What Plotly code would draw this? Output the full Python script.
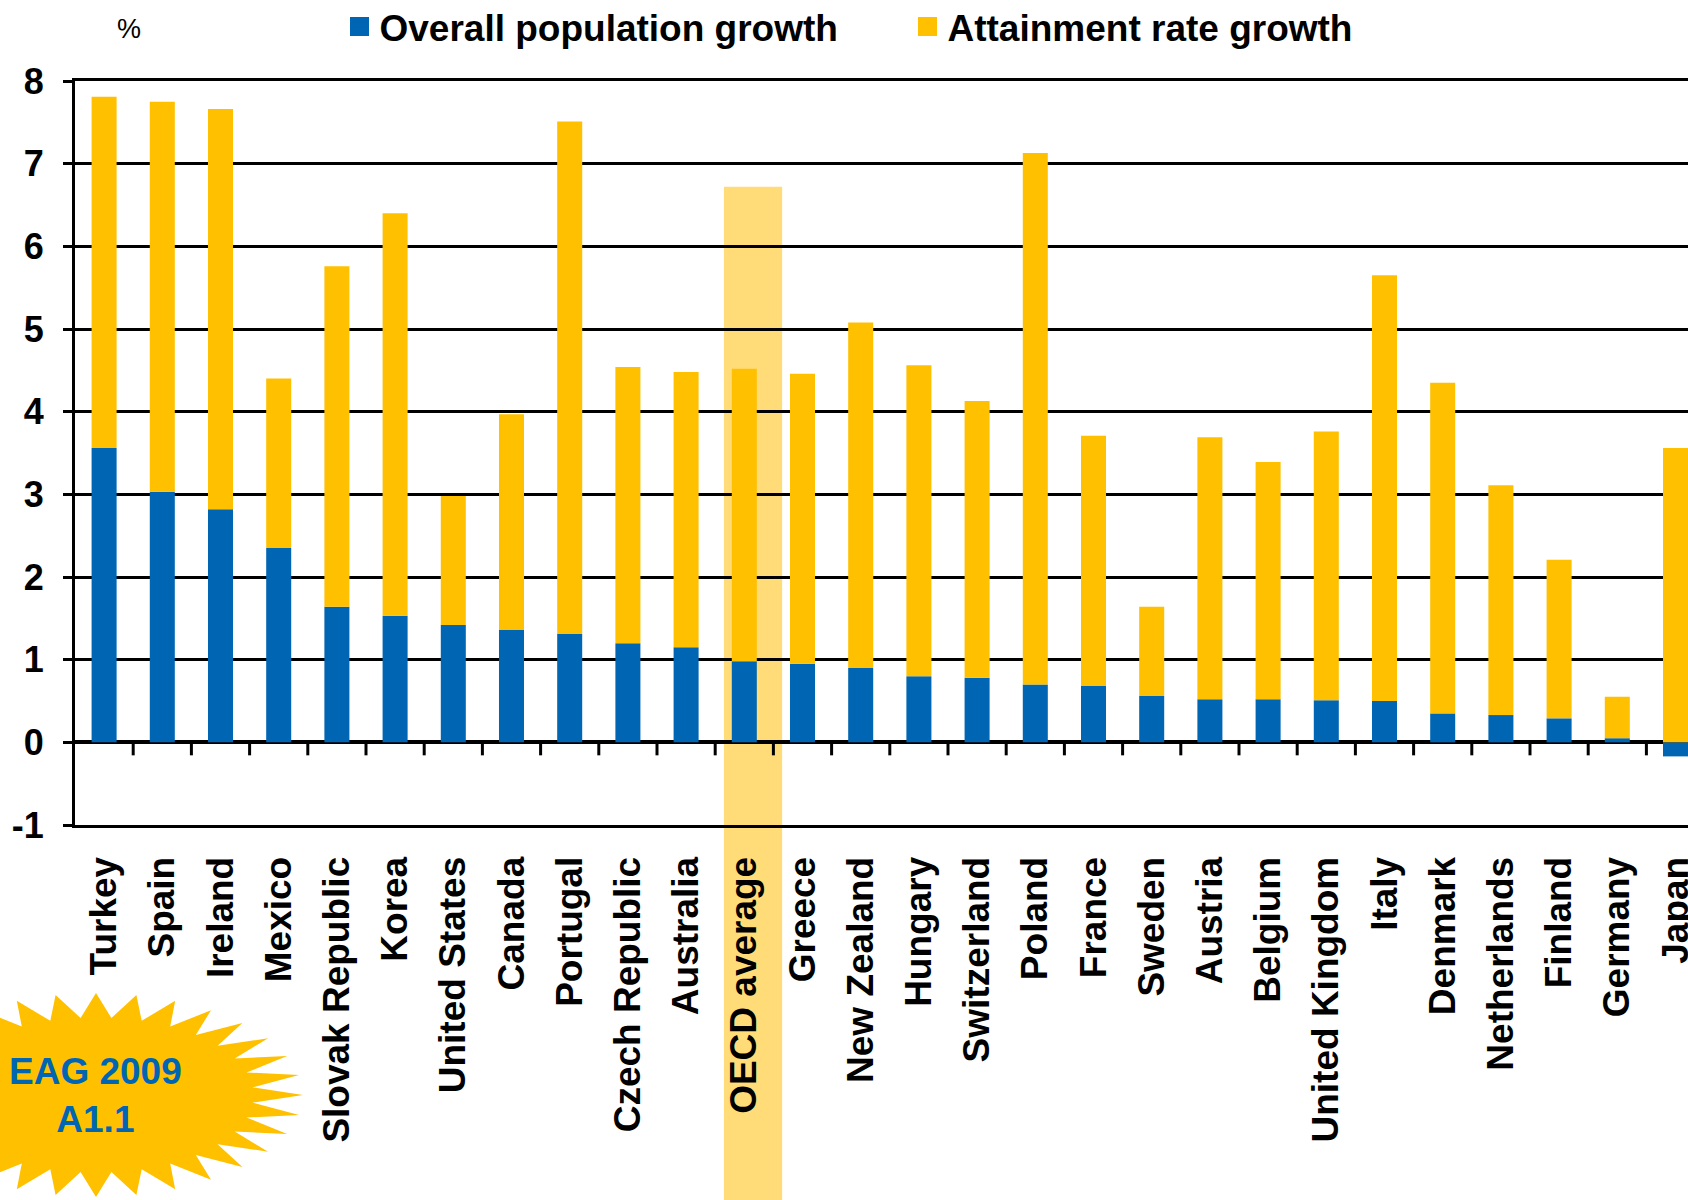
import math
import plotly.graph_objects as go

# ---------------- data ----------------
countries = [
    "Turkey", "Spain", "Ireland", "Mexico", "Slovak Republic", "Korea",
    "United States", "Canada", "Portugal", "Czech Republic", "Australia",
    "OECD average", "Greece", "New Zealand", "Hungary", "Switzerland",
    "Poland", "France", "Sweden", "Austria", "Belgium", "United Kingdom",
    "Italy", "Denmark", "Netherlands", "Finland", "Germany", "Japan",
]
population_growth = [
    3.56, 3.03, 2.82, 2.35, 1.64, 1.53, 1.42, 1.36, 1.31, 1.20, 1.15,
    0.98, 0.95, 0.90, 0.80, 0.78, 0.70, 0.68, 0.56, 0.52, 0.52, 0.51,
    0.50, 0.35, 0.33, 0.29, 0.05, -0.17,
]
attainment_growth = [
    4.25, 4.72, 4.84, 2.05, 4.12, 4.87, 1.56, 2.61, 6.20, 3.34, 3.33,
    3.54, 3.51, 4.18, 3.76, 3.35, 6.43, 3.03, 1.08, 3.17, 2.87, 3.25,
    5.15, 4.00, 2.78, 1.92, 0.50, 3.56,
]
series_names = ["Overall population growth", "Attainment rate growth"]
y_ticks = list(range(-1, 9))
y_tick_labels = [str(v) for v in y_ticks]
highlight_category = "OECD average"
highlight_top = 6.72
badge_text = "EAG 2009<br>A1.1"

# ---------------- style / layout ----------------
BLUE = "#0066B3"
GOLD = "#FFC000"
HILITE = "#FFDC78"
FONT = "Liberation Sans"

W, H = 1688, 1200
ML, MR, MT, MB = 75, 0, 81, 375
plot_w = W - ML - MR
plot_h = H - MT - MB
cat_px = 58.2
x_lo = -0.5
x_hi = x_lo + plot_w / cat_px
y_lo, y_hi = -1, 8


def px_to_paper_x(px):
    return (px - ML) / plot_w


def px_to_paper_y(py):
    return (MT + plot_h - py) / plot_h


fig = go.Figure()
fig.add_bar(x=countries, y=population_growth, name=series_names[0],
            marker=dict(color=BLUE, line=dict(width=0)), showlegend=False)
fig.add_bar(x=countries, y=attainment_growth, name=series_names[1],
            marker=dict(color=GOLD, line=dict(width=0)), showlegend=False)

# legend proxies (bigger square symbols than bar legend icons)
for name, color in zip(series_names, [BLUE, GOLD]):
    fig.add_scatter(x=[None], y=[None], mode="markers", name=name,
                    marker=dict(symbol="square", size=16, color=color,
                                line=dict(color=color, width=3)))

shapes = []
# highlight band behind OECD average
hi = countries.index(highlight_category)
shapes.append(dict(type="rect", xref="x", yref="paper",
                   x0=hi - 0.35, x1=hi + 0.65,
                   y0=-MB / plot_h, y1=(highlight_top - y_lo) / (y_hi - y_lo),
                   fillcolor=HILITE, line=dict(width=0), layer="below"))
# category tick marks hanging from the zero line
for i in range(len(countries)):
    shapes.append(dict(type="line", xref="x", yref="y", ysizemode="pixel",
                       yanchor=0, x0=i + 0.5, x1=i + 0.5, y0=0, y1=-13,
                       line=dict(color="black", width=3)))

# starburst badge
n_spikes = 32
rx, ry, inner = 207, 102, 0.76
pts = []
for k in range(2 * n_spikes):
    a = math.pi * k / n_spikes
    f = 1.0 if k % 2 == 0 else inner
    pts.append((rx * f * math.cos(a), ry * f * math.sin(a)))
path = "M" + " L".join(f"{px:.1f},{py:.1f}" for px, py in pts) + " Z"
shapes.append(dict(type="path", xref="paper", yref="paper",
                   xsizemode="pixel", ysizemode="pixel",
                   xanchor=px_to_paper_x(96), yanchor=px_to_paper_y(1095),
                   path=path, fillcolor=GOLD, line=dict(width=0), layer="above"))

annotations = [
    dict(xref="paper", yref="paper", x=px_to_paper_x(95.5), y=px_to_paper_y(1095),
         xanchor="center", yanchor="middle",
         text=badge_text, showarrow=False, align="center",
         font=dict(family=FONT, size=37, color=BLUE, weight="bold")),
    dict(xref="paper", yref="paper", x=px_to_paper_x(129), y=px_to_paper_y(29),
         xanchor="center", yanchor="middle",
         text="%", showarrow=False,
         font=dict(family=FONT, size=27, color="black")),
]

fig.update_layout(
    width=W, height=H,
    margin=dict(l=ML, r=MR, t=MT, b=MB, pad=0, autoexpand=False),
    paper_bgcolor="white", plot_bgcolor="rgba(0,0,0,0)",
    barmode="relative", bargap=0.57,
    font=dict(family=FONT, color="black"),
    shapes=shapes, annotations=annotations,
    legend=dict(orientation="h", x=px_to_paper_x(339.5), xanchor="left",
                y=px_to_paper_y(27), yanchor="middle",
                font=dict(family=FONT, size=37, color="black", weight="bold"),
                bgcolor="rgba(0,0,0,0)", entrywidth=523, itemwidth=30,
                traceorder="normal"),
    xaxis=dict(type="category", categoryorder="array", categoryarray=countries,
               range=[x_lo, x_hi], tickangle=-90,
               tickfont=dict(family=FONT, size=37, color="black", weight="bold"),
               showline=True, linecolor="black", linewidth=3, mirror=True,
               ticks="", ticklabelstandoff=14, showgrid=False, zeroline=False),
    yaxis=dict(range=[y_lo, y_hi], tickvals=y_ticks, ticktext=y_tick_labels,
               showgrid=True, gridcolor="black", gridwidth=2.5,
               zeroline=True, zerolinecolor="black", zerolinewidth=3.5,
               showline=True, linecolor="black", linewidth=3,
               ticks="outside", ticklen=9, tickwidth=3, tickcolor="black",
               ticklabelstandoff=12,
               tickfont=dict(family=FONT, size=36, color="black", weight="bold")),
)

fig.write_html("out.html")
